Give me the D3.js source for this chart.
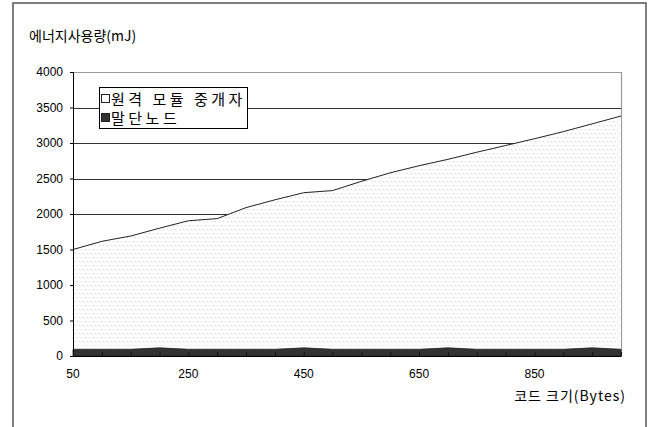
<!DOCTYPE html>
<html>
<head>
<meta charset="utf-8">
<script src="https://cdn.jsdelivr.net/npm/d3@7"></script>
<style>
  body { margin: 0; background: #fff; }
  text { font-family: "Liberation Sans", Arial, sans-serif; }
  .kr { font-family: "Noto Sans CJK KR", sans-serif; }
</style>
</head>
<body>
<div id="chart"></div>
<script>
/* 코드 크기별 에너지 사용량 area chart */

const codeSizes = [50, 100, 150, 200, 250, 300, 350, 400, 450, 500,
                   550, 600, 650, 700, 750, 800, 850, 900, 950, 1000];
const remoteRelay = [1500, 1615, 1690, 1800, 1905, 1935, 2090, 2200, 2300, 2330,
                     2460, 2580, 2680, 2770, 2870, 2965, 3060, 3160, 3270, 3380];
const endNode = [95, 95, 95, 115, 95, 95, 95, 95, 115, 95,
                 95, 95, 95, 115, 95, 95, 95, 95, 115, 95];
const seriesNames = ["원격 모듈 중개자", "말단노드"];
const yTicks = [0, 500, 1000, 1500, 2000, 2500, 3000, 3500, 4000];
const xLabels = [50, 250, 450, 650, 850];

const width = 654,
      height = 427,
      margin = ({ top: 72, right: 33, bottom: 71, left: 73 });

const svg = d3.select("#chart")
    .append("svg")
    .attr("width", width)
    .attr("height", height)
    .attr("viewBox", [0, 0, width, height]);

// dotted fill like the excel pattern
const defs = svg.append("defs");
const pat = defs.append("pattern")
    .attr("id", "dots")
    .attr("patternUnits", "userSpaceOnUse")
    .attr("width", 8).attr("height", 8);
pat.append("rect").attr("width", 8).attr("height", 8).attr("fill", "#fff");
for (const [dx, dy] of [[1, 1], [5, 1], [3, 5], [7, 5]]) {
    pat.append("rect").attr("x", dx).attr("y", dy)
        .attr("width", 1).attr("height", 1).attr("fill", "#d2d2d2");
}

// outer frame
svg.append("rect")
    .attr("x", 13).attr("y", 3)
    .attr("width", 633).attr("height", 440)
    .attr("fill", "none")
    .attr("stroke", "#555")
    .attr("stroke-width", 1.5);

const x = d3.scalePoint()
    .domain(codeSizes)
    .range([margin.left, width - margin.right]);

const y = d3.scaleLinear()
    .domain([0, 4000])
    .range([height - margin.bottom, margin.top]);

// gridlines
svg.append("g")
    .selectAll("line")
    .data(yTicks.filter(d => d > 0 && d < 4000))
    .join("line")
    .attr("x1", margin.left)
    .attr("x2", width - margin.right)
    .attr("y1", d => Math.round(y(d)) + 0.5)
    .attr("y2", d => Math.round(y(d)) + 0.5)
    .attr("stroke", "#333");

// plot border (top and right)
svg.append("path")
    .attr("d", `M${margin.left},${y(4000) + 0.5}H${width - margin.right + 0.5}V${y(0)}`)
    .attr("fill", "none")
    .attr("stroke", "#999")
    .attr("stroke-width", 1.2);

const area = vals => d3.area()
    .x((d, i) => x(codeSizes[i]))
    .y0(y(0))
    .y1(d => y(d))(vals);

svg.append("path")
    .attr("d", area(remoteRelay))
    .attr("fill", "url(#dots)");

svg.append("path")
    .attr("d", d3.line().x((d, i) => x(codeSizes[i])).y(d => y(d))(remoteRelay))
    .attr("fill", "none")
    .attr("stroke", "#222")
    .attr("stroke-width", 1);

svg.append("path")
    .attr("d", area(endNode))
    .attr("fill", "#333")
    .attr("stroke", "#222")
    .attr("stroke-width", 0.8);

// y axis
const yAxis = g => g
    .attr("transform", `translate(${margin.left},0)`)
    .call(d3.axisLeft(y).tickValues(yTicks).tickFormat(d3.format("d")).tickSize(3).tickPadding(7))
    .call(g => g.selectAll("text")
        .attr("font-size", 12)
        .attr("fill", "#000")
        .attr("font-family", "Liberation Sans, Arial, sans-serif"))
    .call(g => g.selectAll("line, path").attr("stroke", "#000"));

svg.append("g").call(yAxis);

// x axis ticks (inside) and labels
const xAxis = g => g
    .attr("transform", `translate(0,${y(0)})`)
    .call(d3.axisBottom(x).tickSize(-4).tickSizeOuter(0).tickFormat(""))
    .call(g => g.selectAll("line").attr("stroke", "#111"))
    .call(g => g.select(".domain").attr("stroke", "#000").attr("stroke-width", 1.2));

svg.append("g").call(xAxis);

svg.append("g")
    .selectAll("text")
    .data(xLabels)
    .join("text")
    .attr("x", d => x(d))
    .attr("y", 378)
    .attr("text-anchor", "middle")
    .attr("font-size", 12)
    .text(d => d);

// axis titles
svg.append("text")
    .attr("class", "kr")
    .attr("x", 29)
    .attr("y", 41)
    .attr("font-size", 14)
    .text("에너지사용량(mJ)");

svg.append("text")
    .attr("class", "kr")
    .attr("x", 626)
    .attr("y", 401)
    .attr("text-anchor", "end")
    .attr("font-size", 14)
    .attr("letter-spacing", 1)
    .text("코드 크기(Bytes)");

// legend
const legend = svg.append("g");
legend.append("rect")
    .attr("x", 99.5).attr("y", 87.5)
    .attr("width", 148).attr("height", 41)
    .attr("fill", "#fff")
    .attr("stroke", "#000");

const legendFill = ["#fff", "#333"];
seriesNames.forEach((name, i) => {
    const cy = 99 + i * 19;
    legend.append("rect")
        .attr("x", 101.5).attr("y", cy - 4.5)
        .attr("width", 8).attr("height", 8)
        .attr("fill", legendFill[i])
        .attr("stroke", "#222");
    legend.append("text")
        .attr("class", "kr")
        .attr("x", 111)
        .attr("y", cy + 5.5)
        .attr("font-size", 15)
        .attr("letter-spacing", 3.5)
        .text(name);
});
</script>
</body>
</html>
